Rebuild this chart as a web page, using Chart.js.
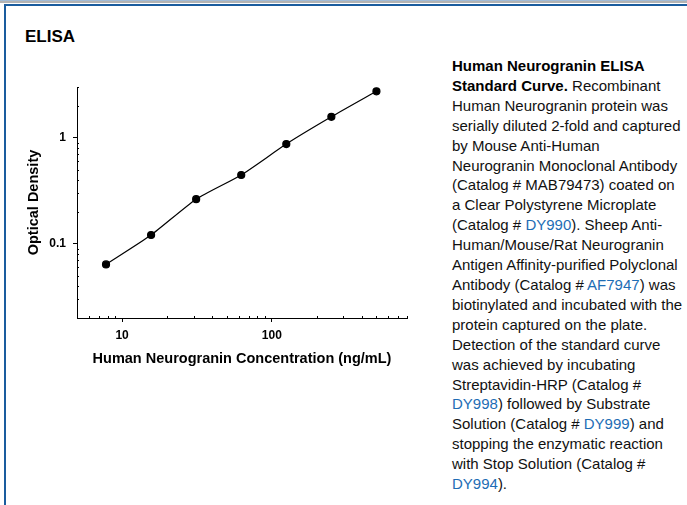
<!DOCTYPE html>
<html>
<head>
<meta charset="utf-8">
<script src="https://cdn.jsdelivr.net/npm/chart.js@4"></script>
<style>
body { margin: 0; background: #fff; font-family: "Liberation Sans", Arial, sans-serif; }
#page { position: relative; width: 687px; height: 505px; overflow: hidden; }
.band1 { position: absolute; left: 0; top: 0; width: 687px; height: 1px; background: #a3bcd6; }
.band2 { position: absolute; left: 0; top: 1px; width: 687px; height: 2px; background: #b3b3b3; }
.topline { position: absolute; left: 4px; top: 4px; width: 683px; height: 2px; background: #1a5c9e; }
.leftline { position: absolute; left: 4px; top: 4px; width: 2px; height: 501px; background: #1a5c9e; }
#title { position: absolute; left: 25px; top: 27px; font-weight: bold; font-size: 17px; color: #000; }
#chartBox { position: absolute; left: 0; top: 0; width: 440px; height: 380px; }
#caption { position: absolute; left: 452px; top: 56px; width: 235px; font-size: 15px; line-height: 19.9px; color: #111; white-space: nowrap; }
#caption b { color: #000; }
#caption a { color: #1d6db5; text-decoration: none; }
</style>
</head>
<body>
<div id="page">
  <div class="band1"></div>
  <div class="band2"></div>
  <div class="topline"></div>
  <div class="leftline"></div>
  <div id="title">ELISA</div>
  <div id="chartBox"><canvas id="elisaChart"></canvas></div>
  <div id="caption">
    <b>Human Neurogranin ELISA<br>Standard Curve.</b> Recombinant<br>
    Human Neurogranin protein was<br>
    serially diluted 2-fold and captured<br>
    by Mouse Anti-Human<br>
    Neurogranin Monoclonal Antibody<br>
    (Catalog # MAB79473) coated on<br>
    a Clear Polystyrene Microplate<br>
    (Catalog # <a>DY990</a>). Sheep Anti-<br>
    Human/Mouse/Rat Neurogranin<br>
    Antigen Affinity-purified Polyclonal<br>
    Antibody (Catalog # <a>AF7947</a>) was<br>
    biotinylated and incubated with the<br>
    protein captured on the plate.<br>
    Detection of the standard curve<br>
    was achieved by incubating<br>
    Streptavidin-HRP (Catalog #<br>
    <a>DY998</a>) followed by Substrate<br>
    Solution (Catalog # <a>DY999</a>) and<br>
    stopping the enzymatic reaction<br>
    with Stop Solution (Catalog #<br>
    <a>DY994</a>).
  </div>
</div>
<script>
// standard curve, 2-fold dilutions
var concentration = [7.8125, 15.625, 31.25, 62.5, 125, 250, 500];
var opticalDensity = [0.064, 0.121, 0.263, 0.445, 0.87, 1.57, 2.73];

var xMajor = [10, 100];
var xMinor = [6, 7, 8, 9, 20, 30, 40, 50, 60, 70, 80, 90, 200, 300, 400, 500, 600, 700, 800];
var yMajor = [0.1, 1];
var yMinor = [0.02, 0.03, 0.04, 0.05, 0.06, 0.07, 0.08, 0.09, 0.2, 0.3, 0.4, 0.5, 0.6, 0.7, 0.8, 0.9, 2, 3];

var points = [];
for (var i = 0; i < concentration.length; i++) {
  points.push({ x: concentration[i], y: opticalDensity[i] });
}

// small inward ticks for the minor decades
var minorTicks = {
  id: 'minorTicks',
  afterDraw: function(chart) {
    var ctx = chart.ctx;
    var xs = chart.scales.x, ys = chart.scales.y;
    ctx.save();
    ctx.strokeStyle = '#000';
    ctx.lineWidth = 1;
    xMinor.forEach(function(v) {
      var px = Math.round(xs.getPixelForValue(v)) + 0.5;
      ctx.beginPath();
      ctx.moveTo(px, xs.top);
      ctx.lineTo(px, xs.top - 2);
      ctx.stroke();
    });
    yMinor.forEach(function(v) {
      var py = Math.round(ys.getPixelForValue(v)) + 0.5;
      ctx.beginPath();
      ctx.moveTo(ys.right, py);
      ctx.lineTo(ys.right + 2, py);
      ctx.stroke();
    });
    ctx.restore();
  }
};

Chart.defaults.color = '#000';
Chart.defaults.font.family = '"Liberation Sans", Arial, sans-serif';

var ctx = document.getElementById('elisaChart').getContext('2d');
new Chart(ctx, {
  type: 'scatter',
  data: {
    datasets: [{
      data: points,
      showLine: true,
      tension: 0.2,
      borderColor: '#000',
      borderWidth: 1.2,
      backgroundColor: '#000',
      pointRadius: 3.5,
      pointHoverRadius: 3.5
    }]
  },
  options: {
    responsive: true,
    maintainAspectRatio: false,
    animation: false,
    layout: { padding: { left: 21, top: 87, right: 33, bottom: 8 } },
    plugins: { legend: { display: false }, tooltip: { enabled: false } },
    scales: {
      x: {
        type: 'logarithmic',
        min: 5,
        max: 800,
        afterBuildTicks: function(scale) {
          scale.ticks = xMajor.map(function(v) { return { value: v }; });
        },
        afterFit: function(scale) { scale.height = 54; },
        ticks: {
          padding: 6,
          font: { size: 12, weight: 'bold' },
          callback: function(v) { return String(v); }
        },
        grid: { drawOnChartArea: false, drawTicks: true, tickLength: 4, color: '#000' },
        border: { color: '#000', width: 1 },
        title: {
          display: true,
          text: 'Human Neurogranin Concentration (ng/mL)',
          font: { size: 14.5, weight: 'bold' }
        }
      },
      y: {
        type: 'logarithmic',
        min: 0.02,
        max: 3,
        afterBuildTicks: function(scale) {
          scale.ticks = yMajor.map(function(v) { return { value: v }; });
        },
        afterFit: function(scale) { scale.width = 56; },
        ticks: {
          padding: 7,
          font: { size: 12, weight: 'bold' },
          callback: function(v) { return String(v); }
        },
        grid: { drawOnChartArea: false, drawTicks: true, tickLength: 4, color: '#000' },
        border: { color: '#000', width: 1 },
        title: {
          display: true,
          text: 'Optical Density',
          font: { size: 14.5, weight: 'bold' }
        }
      }
    }
  },
  plugins: [minorTicks]
});
</script>
</body>
</html>
